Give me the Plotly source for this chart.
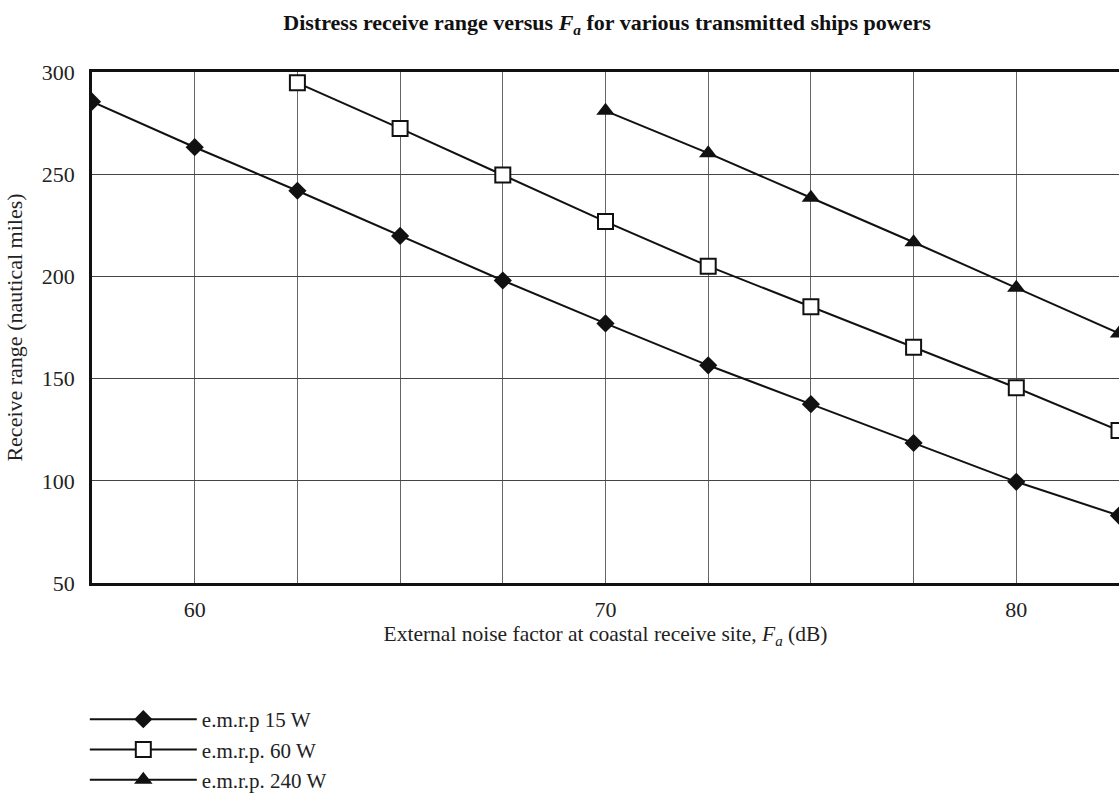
import plotly.graph_objects as go

fa_15 = [57.5, 60, 62.5, 65, 67.5, 70, 72.5, 75, 77.5, 80, 82.5]
range_15 = [285.5, 263.2, 241.9, 219.8, 198.0, 177.0, 156.5, 137.5, 118.5, 99.5, 83.0]

fa_60 = [62.5, 65, 67.5, 70, 72.5, 75, 77.5, 80, 82.5]
range_60 = [294.7, 272.4, 249.6, 226.8, 205.0, 185.2, 165.3, 145.5, 124.6]

fa_240 = [70, 72.5, 75, 77.5, 80, 82.5]
range_240 = [281.0, 260.3, 238.5, 216.7, 194.4, 172.1]

names = ["e.m.r.p 15 W", "e.m.r.p. 60 W", "e.m.r.p. 240 W"]

x_tickvals = [60, 70, 80]
x_minor_gridvals = [57.5, 60, 62.5, 65, 67.5, 70, 72.5, 75, 77.5, 80, 82.5]
y_tickvals = [50, 100, 150, 200, 250, 300]

FONT = "Liberation Serif"
LINE = "#111111"

fig = go.Figure()
fig.add_trace(go.Scatter(
    x=fa_15, y=range_15, name=names[0], mode="lines+markers",
    line=dict(color=LINE, width=2),
    marker=dict(symbol="diamond", size=14, color=LINE),
))
fig.add_trace(go.Scatter(
    x=fa_60, y=range_60, name=names[1], mode="lines+markers",
    line=dict(color=LINE, width=2),
    marker=dict(symbol="square", size=15, color="white", line=dict(color=LINE, width=2)),
))
fig.add_trace(go.Scatter(
    x=fa_240, y=range_240, name=names[2], mode="lines+markers",
    line=dict(color=LINE, width=2),
    marker=dict(symbol="triangle-up", size=16, color=LINE),
))

fig.update_layout(
    width=1119, height=800,
    margin=dict(l=92, r=0, t=72, b=212),
    paper_bgcolor="white", plot_bgcolor="white",
    font=dict(family=FONT, size=22, color="#222222"),
    title=dict(
        text="<b>Distress receive range versus <i>F</i><sub><i>a</i></sub> for various transmitted ships powers</b>",
        x=0.5425, xanchor="center", y=0.972, yanchor="middle",
        font=dict(family=FONT, size=22, color="#111111"),
    ),
    xaxis=dict(
        range=[57.5, 82.5], tickvals=x_tickvals,
        showgrid=True, gridcolor="#666666", gridwidth=1,
        minor=dict(tickvals=x_minor_gridvals, showgrid=True, gridcolor="#666666", gridwidth=1, ticks=""),
        showline=True, linecolor="#111111", linewidth=2.5, mirror=True,
        ticks="", zeroline=False, ticklabelstandoff=5,
        title=dict(text="External noise factor at coastal receive site, <i>F</i><sub><i>a</i></sub> (dB)",
                   font=dict(family=FONT, size=21.5), standoff=4),
        tickfont=dict(family=FONT, size=22),
    ),
    yaxis=dict(
        range=[50, 300], tickvals=y_tickvals,
        showgrid=True, gridcolor="#444444", gridwidth=1,
        showline=True, linecolor="#111111", linewidth=2.5,
        ticks="", zeroline=False, ticklabelstandoff=10,
        title=dict(text="Receive range (nautical miles)", font=dict(family=FONT, size=22), standoff=14),
        tickfont=dict(family=FONT, size=22),
    ),
    legend=dict(
        xref="paper", yref="paper", x=-0.007, y=-0.228, xanchor="left", yanchor="top",
        orientation="v", traceorder="normal",
        font=dict(family=FONT, size=21, color="#222222"),
        itemwidth=107, tracegroupgap=0,
        bgcolor="rgba(0,0,0,0)",
    ),
    showlegend=True,
)

fig.write_html("out.html")
